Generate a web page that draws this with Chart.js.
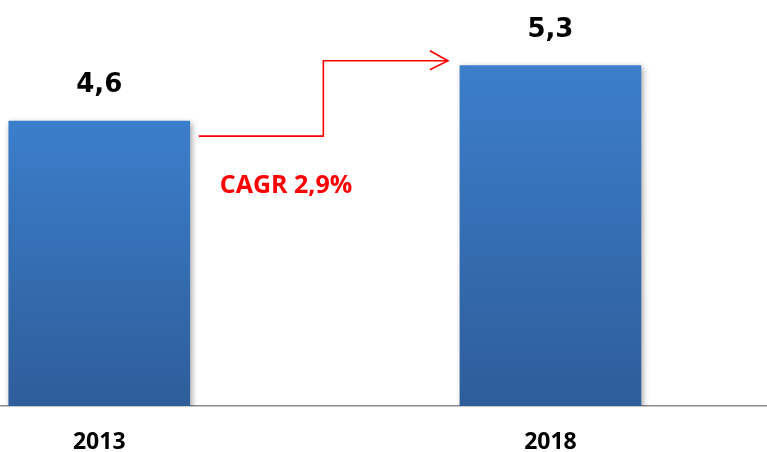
<!DOCTYPE html>
<html>
<head>
<meta charset="utf-8">
<style>
  html, body { margin: 0; padding: 0; background: #fff; }
  #wrap { width: 767px; height: 452px; }
</style>
<script src="https://cdn.jsdelivr.net/npm/chart.js@4.4.1/dist/chart.umd.min.js"></script>
</head>
<body>
<div id="wrap"><canvas id="cagrChart"></canvas></div>
<script>
const years = ['2013', '2018'];
const values = [4.6, 5.3];
const valueLabels = ['4,6', '5,3'];
const cagrLabel = 'CAGR 2,9%';

const ctx = document.getElementById('cagrChart').getContext('2d');

// gradient from the top of each bar down to the axis
function barGradient(context) {
    const chart = context.chart;
    const y = chart.scales.y;
    if (!chart.chartArea || !y) return '#3672b8';
    const top = y.getPixelForValue(context.raw.y);
    const g = chart.ctx.createLinearGradient(0, top, 0, chart.chartArea.bottom);
    g.addColorStop(0, '#3c7ecb');
    g.addColorStop(1, '#2e5d9a');
    return g;
}

const barShadow = {
    id: 'barShadow',
    beforeDatasetDraw(chart) {
        const c = chart.ctx;
        c.save();
        c.shadowColor = 'rgba(0,0,0,0.35)';
        c.shadowBlur = 6;
        c.shadowOffsetX = 2;
        c.shadowOffsetY = 2;
    },
    afterDatasetDraw(chart) {
        chart.ctx.restore();
    }
};

const valueText = {
    id: 'valueText',
    afterDatasetsDraw(chart) {
        const c = chart.ctx;
        const bars = chart.getDatasetMeta(0).data;
        c.save();
        c.font = 'bold 26px "DejaVu Sans"';
        c.fillStyle = '#000';
        c.textAlign = 'center';
        c.textBaseline = 'alphabetic';
        bars.forEach((bar, i) => {
            c.fillText(valueLabels[i], bar.x, bar.y - 29);
        });

        // step arrow between the two bars
        const b1 = bars[0], b2 = bars[1];
        const x0 = b1.x + b1.width / 2 + 9;
        const y0 = b1.y + 15;
        const x2 = b2.x - b2.width / 2 - 12;
        const y2 = b2.y - 5;
        const xm = (x0 + x2) / 2;
        c.strokeStyle = '#ff0000';
        c.lineWidth = 1.6;
        c.lineJoin = 'miter';
        c.beginPath();
        c.moveTo(x0, y0);
        c.lineTo(xm, y0);
        c.lineTo(xm, y2);
        c.lineTo(x2, y2);
        c.stroke();
        c.beginPath();
        c.moveTo(x2 - 18, y2 - 10);
        c.lineTo(x2, y2);
        c.lineTo(x2 - 18, y2 + 9);
        c.stroke();

        c.font = 'bold 25px "Open Sans"';
        c.fillStyle = '#ff0000';
        c.textAlign = 'left';
        c.fillText(cagrLabel, x0 + 21, y0 + 57);
        c.restore();
    }
};

new Chart(ctx, {
    type: 'bar',
    data: {
        datasets: [{
            data: values.map((v, i) => ({ x: i, y: v })),
            backgroundColor: barGradient,
            borderWidth: 0,
            barThickness: 181
        }]
    },
    options: {
        responsive: true,
        maintainAspectRatio: false,
        animation: false,
        layout: { padding: 0 },
        plugins: {
            legend: { display: false },
            tooltip: { enabled: false }
        },
        scales: {
            x: {
                type: 'linear',
                offset: false,
                min: -0.22,
                max: 1.48,
                afterBuildTicks(axis) {
                    axis.ticks = years.map((_, i) => ({ value: i }));
                },
                afterFit(axis) {
                    axis.height = 46;
                },
                ticks: {
                    callback: (v) => years[v],
                    color: '#000',
                    font: { family: 'Open Sans', weight: 'bold', size: 23 },
                    padding: 23,
                    maxRotation: 0
                },
                grid: { display: false, drawTicks: false, offset: false },
                border: { display: true, color: '#8c8c8c', width: 1.5 }
            },
            y: {
                display: false,
                min: 1,
                max: 6.13
            }
        }
    },
    plugins: [barShadow, valueText]
});
</script>
</body>
</html>
